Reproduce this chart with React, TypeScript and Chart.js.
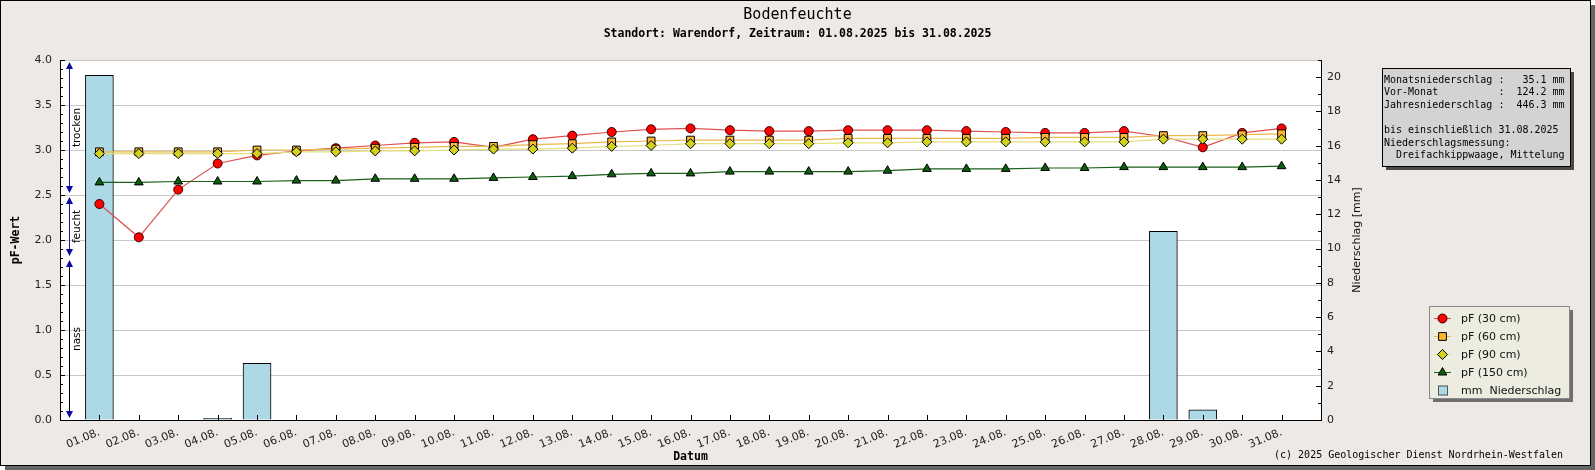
import { useEffect, useRef } from "react"
import { Chart, registerables } from "chart.js"
import { drawPoint } from "chart.js/helpers"

Chart.register(...registerables)

// Tage im August 2025
const days = [
  "01.08.", "02.08.", "03.08.", "04.08.", "05.08.", "06.08.", "07.08.", "08.08.",
  "09.08.", "10.08.", "11.08.", "12.08.", "13.08.", "14.08.", "15.08.", "16.08.",
  "17.08.", "18.08.", "19.08.", "20.08.", "21.08.", "22.08.", "23.08.", "24.08.",
  "25.08.", "26.08.", "27.08.", "28.08.", "29.08.", "30.08.", "31.08.",
]

// pF-Werte je Tiefe
const pf30 = [
  2.40, 2.03, 2.56, 2.85, 2.94, 2.99, 3.02, 3.05, 3.08, 3.09, 3.03, 3.12, 3.16, 3.20, 3.23, 3.24,
  3.22, 3.21, 3.21, 3.22, 3.22, 3.22, 3.21, 3.20, 3.19, 3.19, 3.21, 3.15, 3.03, 3.19, 3.24,
]
const pf60 = [
  2.98, 2.98, 2.98, 2.98, 3.00, 3.00, 3.01, 3.02, 3.03, 3.04, 3.04, 3.06, 3.07, 3.09, 3.10, 3.11,
  3.11, 3.11, 3.11, 3.13, 3.13, 3.13, 3.13, 3.13, 3.14, 3.14, 3.14, 3.16, 3.16, 3.17, 3.18,
]
const pf90 = [
  2.96, 2.96, 2.96, 2.96, 2.96, 2.98, 2.98, 2.99, 2.99, 3.00, 3.01, 3.01, 3.02, 3.04, 3.05, 3.07,
  3.07, 3.07, 3.07, 3.08, 3.08, 3.09, 3.09, 3.09, 3.09, 3.09, 3.09, 3.12, 3.12, 3.12, 3.12,
]
const pf150 = [
  2.64, 2.64, 2.65, 2.65, 2.65, 2.66, 2.66, 2.68, 2.68, 2.68, 2.69, 2.70, 2.71, 2.73, 2.74, 2.74,
  2.76, 2.76, 2.76, 2.76, 2.77, 2.79, 2.79, 2.79, 2.80, 2.80, 2.81, 2.81, 2.81, 2.81, 2.82,
]

// Niederschlag in mm
const rain = [
  20.1, 0, 0, 0.1, 3.3, 0, 0, 0, 0, 0, 0, 0, 0, 0, 0, 0,
  0, 0, 0, 0, 0, 0, 0, 0, 0, 0, 0, 11.0, 0.6, 0, 0,
]

// Bereiche am linken Rand
const zoneBounds = [4.0, 2.5, 1.8, 0.0]
const zoneNames = ["trocken", "feucht", "nass"]

const station = "Warendorf"
const periodFrom = "01.08.2025"
const periodTo = "31.08.2025"
const prevMonth = 124.2
const yearTotal = 446.3

const mono = "DejaVu Sans Mono"
const sans = "DejaVu Sans"

const frame = {
  id: "frame",
  beforeDraw(chart: any) {
    const { ctx, width, height, chartArea: a } = chart
    ctx.save()
    ctx.fillStyle = "#ffffff"
    ctx.fillRect(0, 0, width, height)
    ctx.fillStyle = "#666666"
    ctx.fillRect(5, 5, width - 5, height - 5)
    ctx.fillStyle = "#ECE9E7"
    ctx.fillRect(0, 0, width - 5, height - 5)
    ctx.strokeStyle = "#000"
    ctx.lineWidth = 1
    ctx.strokeRect(0.5, 0.5, width - 5, height - 5)
    ctx.fillStyle = "#ffffff"
    ctx.fillRect(a.left, a.top, a.right - a.left, a.bottom - a.top)
    ctx.restore()
  },
}

const tickMarks = {
  id: "tickMarks",
  afterDatasetsDraw(chart: any) {
    const { ctx, chartArea: a, scales } = chart
    ctx.save()
    ctx.strokeStyle = "#000"
    ctx.lineWidth = 1
    ctx.beginPath()
    days.forEach((_, i) => {
      const x = Math.round(scales.x.getPixelForValue(i + 1)) + 0.5
      ctx.moveTo(x, a.bottom)
      ctx.lineTo(x, a.bottom - 5)
    })
    for (let i = 0; i <= scales.y.max * 10; i++) {
      const y = Math.round(scales.y.getPixelForValue(i / 10)) + 0.5
      ctx.moveTo(a.left, y)
      ctx.lineTo(a.left + (i % 5 === 0 ? 5 : 3), y)
    }
    for (let i = 0; i <= scales.y2.max; i++) {
      const y = Math.round(scales.y2.getPixelForValue(i)) + 0.5
      ctx.moveTo(a.right, y)
      ctx.lineTo(a.right - (i % 2 === 0 ? 5 : 3), y)
    }
    ctx.stroke()
    ctx.restore()
  },
}

const zones = {
  id: "zones",
  afterDraw(chart: any) {
    const { ctx, chartArea: a, scales } = chart
    const x = Math.round(a.left + 9) + 0.5
    const lineColors = ["#1a1a9c", "#1a1a9c", "#000000"]
    ctx.save()
    zoneNames.forEach((name, i) => {
      const top = scales.y.getPixelForValue(zoneBounds[i]) + 2
      const bottom = scales.y.getPixelForValue(zoneBounds[i + 1]) - 2
      ctx.strokeStyle = lineColors[i]
      ctx.lineWidth = 1
      ctx.beginPath()
      ctx.moveTo(x, top + 4)
      ctx.lineTo(x, bottom - 4)
      ctx.stroke()
      ctx.fillStyle = "#0a0aa0"
      ctx.beginPath()
      ctx.moveTo(x, top)
      ctx.lineTo(x - 3.5, top + 7)
      ctx.lineTo(x + 3.5, top + 7)
      ctx.closePath()
      ctx.fill()
      ctx.beginPath()
      ctx.moveTo(x, bottom)
      ctx.lineTo(x - 3.5, bottom - 7)
      ctx.lineTo(x + 3.5, bottom - 7)
      ctx.closePath()
      ctx.fill()
      ctx.save()
      ctx.translate(x + 8, (top + bottom) / 2)
      ctx.rotate(-Math.PI / 2)
      ctx.fillStyle = "#000"
      ctx.font = `10.5px "${sans}"`
      ctx.textAlign = "center"
      ctx.textBaseline = "middle"
      ctx.fillText(name, 0, 0)
      ctx.restore()
    })
    ctx.restore()
  },
}

const boxes = {
  id: "boxes",
  afterDraw(chart: any) {
    const { ctx, chartArea: a, width } = chart
    ctx.save()

    // Achsentitel rechts
    ctx.save()
    ctx.translate(a.right + 36, (a.top + a.bottom) / 2)
    ctx.rotate(-Math.PI / 2)
    ctx.font = `11px "${sans}"`
    ctx.fillStyle = "#111"
    ctx.textAlign = "center"
    ctx.textBaseline = "middle"
    ctx.fillText("Niederschlag [mm]", 0, 0)
    ctx.restore()

    // Infokasten
    const total = rain.reduce((s, v) => s + v, 0)
    const info = [
      `Monatsniederschlag : ${total.toFixed(1).padStart(6)} mm`,
      `Vor-Monat          : ${prevMonth.toFixed(1).padStart(6)} mm`,
      `Jahresniederschlag : ${yearTotal.toFixed(1).padStart(6)} mm`,
      "",
      `bis einschließlich ${periodTo}`,
      "Niederschlagsmessung:",
      "  Dreifachkippwaage, Mittelung",
    ]
    const ix = 1382
    const iy = 68
    const iw = 188
    const ih = 98
    ctx.fillStyle = "#4a4a4a"
    ctx.fillRect(ix + 4, iy + 4, iw, ih)
    ctx.fillStyle = "#D3D3D3"
    ctx.fillRect(ix, iy, iw, ih)
    ctx.strokeStyle = "#000"
    ctx.lineWidth = 1
    ctx.strokeRect(ix + 0.5, iy + 0.5, iw, ih)
    ctx.fillStyle = "#000"
    ctx.font = `10px "${mono}"`
    ctx.textAlign = "left"
    ctx.textBaseline = "middle"
    info.forEach((line, i) => ctx.fillText(line, ix + 2, iy + 12 + i * 12.6))

    // Legende
    const lx = 1429
    const ly = 306
    const lw = 140
    const lh = 92
    ctx.fillStyle = "#6e6e6e"
    ctx.fillRect(lx + 4, ly + 4, lw, lh)
    ctx.fillStyle = "#ECECE0"
    ctx.fillRect(lx, ly, lw, lh)
    ctx.strokeStyle = "#8a8a8a"
    ctx.strokeRect(lx + 0.5, ly + 0.5, lw, lh)
    ctx.font = `11px "${sans}"`
    chart.data.datasets.forEach((ds: any, i: number) => {
      const y = ly + 12 + i * 18
      if (ds.type === "line") {
        ctx.strokeStyle = ds.borderColor
        ctx.lineWidth = 1
        ctx.beginPath()
        ctx.moveTo(lx + 5, y + 0.5)
        ctx.lineTo(lx + 22, y + 0.5)
        ctx.stroke()
        ctx.fillStyle = ds.pointBackgroundColor
        ctx.strokeStyle = ds.pointBorderColor
        ctx.lineWidth = 1
        drawPoint(ctx, { pointStyle: ds.pointStyle, radius: ds.pointRadius, rotation: 0, borderWidth: 1 }, lx + 13.5, y + 0.5)
      } else {
        ctx.fillStyle = ds.backgroundColor
        ctx.fillRect(lx + 9, y - 4.5, 10, 10)
        ctx.strokeStyle = "#555"
        ctx.strokeRect(lx + 9.5, y - 4, 9, 9)
      }
      ctx.fillStyle = "#111"
      ctx.textAlign = "left"
      ctx.textBaseline = "middle"
      ctx.fillText(ds.label, lx + 32, y + 1)
    })

    // Quelle
    ctx.font = `10px "${mono}"`
    ctx.fillStyle = "#000"
    ctx.textAlign = "right"
    ctx.textBaseline = "middle"
    ctx.fillText("(c) 2025 Geologischer Dienst Nordrhein-Westfalen", width - 32, 455)
    ctx.restore()
  },
}

const lineSet = (
  label: string,
  values: number[],
  color: string,
  fill: string,
  border: string,
  pointStyle: string,
  radius: number,
  order: number
) => ({
  type: "line" as const,
  label,
  data: values.map((y, i) => ({ x: i + 1, y })),
  yAxisID: "y",
  borderColor: color,
  borderWidth: 1.2,
  pointStyle,
  pointRadius: radius,
  pointBackgroundColor: fill,
  pointBorderColor: border,
  pointBorderWidth: 1,
  tension: 0,
  order,
})

export default function App() {
  const chartRef = useRef<HTMLCanvasElement>(null)
  const chartInstance = useRef<Chart | null>(null)

  useEffect(() => {
    document.body.style.margin = "0"
    if (!chartRef.current) return
    if (chartInstance.current) chartInstance.current.destroy()

    const tickFont = { family: sans, size: 11 }

    chartInstance.current = new Chart(chartRef.current, {
      type: "bar",
      data: {
        datasets: [
          lineSet("pF (30 cm)", pf30, "#E05050", "#FF0000", "#3a0000", "circle", 4.5, 4),
          lineSet("pF (60 cm)", pf60, "#EDB84A", "#FFB732", "#000000", "rect", 5.5, 3),
          lineSet("pF (90 cm)", pf90, "#E4E07A", "#D2D21E", "#000000", "rectRot", 5, 2),
          lineSet("pF (150 cm)", pf150, "#1A601A", "#0B5E0B", "#000000", "triangle", 5, 1),
          {
            type: "bar" as const,
            label: "mm  Niederschlag",
            data: rain.map((y, i) => ({ x: i + 1, y })),
            yAxisID: "y2",
            backgroundColor: "#ADD8E6",
            borderColor: "#000000",
            borderWidth: 1,
            barThickness: 28,
            order: 10,
          },
        ] as any,
      },
      options: {
        responsive: false,
        animation: false,
        layout: { padding: 0 },
        plugins: {
          legend: { display: false },
          tooltip: { enabled: false },
          title: {
            display: true,
            text: "Bodenfeuchte",
            color: "#000",
            font: { family: mono, size: 15, weight: "normal", lineHeight: 1.2 },
            padding: { top: 6, bottom: 0 },
          },
          subtitle: {
            display: true,
            text: `Standort: ${station}, Zeitraum: ${periodFrom} bis ${periodTo}`,
            color: "#000",
            font: { family: mono, size: 11.5, weight: "bold", lineHeight: 1.2 },
            padding: { top: 3.1, bottom: 19.1 },
          },
        },
        scales: {
          x: {
            type: "linear",
            min: 0,
            max: days.length + 1,
            offset: false,
            afterFit: (s: any) => {
              s.height = 50
            },
            grid: { drawOnChartArea: false, drawTicks: false },
            border: { color: "#000", width: 1 },
            ticks: {
              stepSize: 1,
              autoSkip: false,
              minRotation: 22,
              maxRotation: 22,
              padding: 6,
              color: "#222",
              font: tickFont,
              callback: (v: any) => days[Number(v) - 1] ?? "",
            },
            title: {
              display: true,
              text: "Datum",
              color: "#000",
              font: { family: mono, size: 11.5, weight: "bold", lineHeight: 1.2 },
              padding: { top: 0, bottom: 6 },
            },
          },
          y: {
            type: "linear",
            position: "left",
            min: 0,
            max: 4,
            afterFit: (s: any) => {
              s.width = 60
            },
            grid: { color: "#C8C8C8", drawTicks: false },
            border: { color: "#000", width: 1 },
            ticks: {
              stepSize: 0.5,
              padding: 8,
              color: "#222",
              font: tickFont,
              callback: (v: any) => Number(v).toFixed(1),
            },
            title: {
              display: true,
              text: "pF-Wert",
              color: "#000",
              font: { family: mono, size: 11.5, weight: "bold", lineHeight: 1.2 },
              padding: { top: 9, bottom: 0 },
            },
          },
          y2: {
            type: "linear",
            position: "right",
            min: 0,
            max: 21,
            afterFit: (s: any) => {
              s.width = 274
            },
            grid: { drawOnChartArea: false, drawTicks: false },
            border: { color: "#000", width: 1 },
            ticks: {
              stepSize: 2,
              includeBounds: false,
              padding: 6,
              color: "#222",
              font: tickFont,
              callback: (v: any) => (Number(v) % 2 === 0 ? String(v) : ""),
            },
          },
        },
      } as any,
      plugins: [frame, tickMarks, zones, boxes],
    })

    return () => {
      if (chartInstance.current) {
        chartInstance.current.destroy()
        chartInstance.current = null
      }
    }
  }, [])

  return (
    <div style={{ width: 1595, height: 470 }}>
      <canvas ref={chartRef} width={1595} height={470} style={{ width: 1595, height: 470 }} />
    </div>
  )
}
